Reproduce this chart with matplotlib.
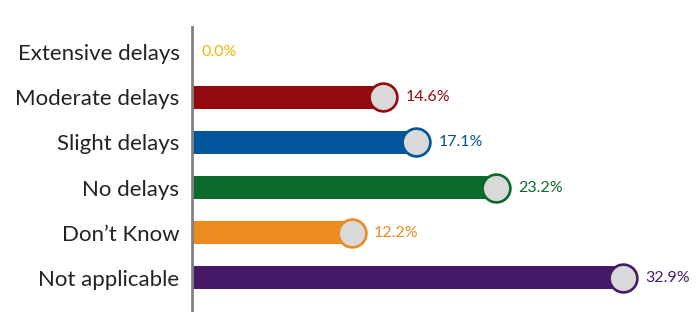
import matplotlib.pyplot as plt

plt.rcParams['font.family'] = ['Lato', 'DejaVu Sans']

categories = ['Extensive delays', 'Moderate delays', 'Slight delays',
              'No delays', 'Don\u2019t Know', 'Not applicable']
values = [0.0, 14.6, 17.1, 23.2, 12.2, 32.9]
colors = ['#F2B705', '#920A0D', '#00559B', '#0A6B2C', '#ED8A20', '#461A68']

fig = plt.figure(figsize=(7, 3.26), dpi=100)
ax = fig.add_axes([192 / 700, 16 / 326, 1 - 192 / 700, 283 / 326])

ypos = list(range(len(categories)))
ax.barh(ypos, values, height=0.51, color=colors, zorder=2)
for y, v, c in zip(ypos, values, colors):
    if v > 0:
        ax.plot(v, y, 'o', ms=20, mfc='#D9D9D9', mec=c, mew=1.9, zorder=3)
        off = 16
    else:
        off = 7
    ax.annotate(f'{v:.1f}%', (v, y), xytext=(off, 0), textcoords='offset points',
                ha='left', va='center', color=c, fontsize=11.5)

ax.set_xlim(0, (700 - 192) / 13.1)
ax.set_ylim(5.71, -0.553)
ax.set_yticks(ypos)
ax.set_yticklabels(categories, fontsize=16, color='#222222')
ax.tick_params(axis='y', length=0, pad=9)
ax.set_xticks([])
for s in ['top', 'right', 'bottom']:
    ax.spines[s].set_visible(False)
ax.spines['left'].set_color('#808080')
ax.spines['left'].set_linewidth(2)

fig.savefig('out.png', dpi=100)
